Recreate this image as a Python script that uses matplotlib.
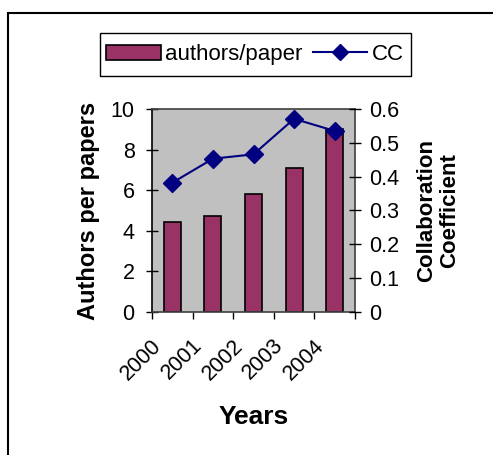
import matplotlib.pyplot as plt
from matplotlib.lines import Line2D
from matplotlib.patches import Rectangle

plt.rcParams['font.family'] = ['Liberation Sans', 'DejaVu Sans']

years = ['2000', '2001', '2002', '2003', '2004']
authors_per_paper = [4.42, 4.71, 5.8, 7.08, 9.03]
cc = [0.382, 0.453, 0.466, 0.571, 0.535]

W, H = 493, 455
fig = plt.figure(figsize=(W / 100, H / 100), dpi=100)

# frame round the whole chart area
fig.add_artist(Rectangle((8 / W, -0.1), 1.2, 1 - 13 / H + 0.1, transform=fig.transFigure,
                         fill=False, edgecolor='black', linewidth=1.5))

ax = fig.add_axes([0.3083, 0.3143, 0.4118, 0.4462])
ax.set_facecolor('#C0C0C0')
x = list(range(len(years)))
bars = ax.bar(x, authors_per_paper, width=0.42, color='#993366', edgecolor='black', linewidth=1.2)
ax.set_xlim(-0.5, 4.5)
ax.set_ylim(0, 10)
ax.set_yticks([0, 2, 4, 6, 8, 10])
# visible x ticks between the categories, labels (invisible major ticks) a bit left of centre
ax.set_xticks([i - 0.5 for i in range(6)], minor=True)
ax.set_xticks([i - 0.34 for i in x])
ax.set_xticklabels(years, rotation=45, ha='right', va='center', rotation_mode='anchor', fontsize=15.5)
ax.tick_params(axis='x', which='major', length=0, pad=22)
ax.tick_params(axis='x', which='minor', length=5, direction='out', width=1)
ax.tick_params(axis='y', direction='inout', length=9, width=1, labelsize=15.5, pad=8)
for s in ax.spines.values():
    s.set_color('#404040')
    s.set_linewidth(1.2)
ax.spines['left'].set_color('black')
ax.set_ylabel('Authors per papers', fontsize=17, fontweight='bold', labelpad=8)
ax.set_xlabel('Years', fontsize=19, fontweight='bold', labelpad=15)

ax2 = ax.twinx()
line, = ax2.plot(x, cc, color='#000080', marker='D', markersize=9, linewidth=1.5)
ax2.set_ylim(0, 0.6)
ax2.set_yticks([0, 0.1, 0.2, 0.3, 0.4, 0.5, 0.6])
ax2.set_yticklabels(['0', '0.1', '0.2', '0.3', '0.4', '0.5', '0.6'])
ax2.tick_params(axis='y', direction='inout', length=9, width=1, labelsize=15.5, pad=6)
for s in ax2.spines.values():
    s.set_visible(False)
ax2.set_ylabel('Collaboration\nCoefficient', fontsize=16, fontweight='bold', labelpad=12,
               linespacing=1.1)

# legend box drawn separately so its padding can be set freely
fig.add_artist(Rectangle((100 / W, 1 - 76 / H), 311 / W, 43 / H, transform=fig.transFigure,
                         facecolor='white', edgecolor='black', linewidth=1.0))
handles = [Rectangle((0, 0), 1, 1, facecolor='#993366', edgecolor='black', linewidth=1.2),
           Line2D([], [], color='#000080', marker='D', markersize=8, linewidth=1.5)]
leg = fig.legend(handles, ['authors/paper', 'CC'], loc='center', ncol=2,
                 bbox_to_anchor=(255 / W, 1 - 54.5 / H), fontsize=16, frameon=False,
                 handlelength=2.45, handleheight=0.68, handletextpad=0.2,
                 columnspacing=0.45, borderpad=0, borderaxespad=0)

fig.savefig('out.png', dpi=100)
